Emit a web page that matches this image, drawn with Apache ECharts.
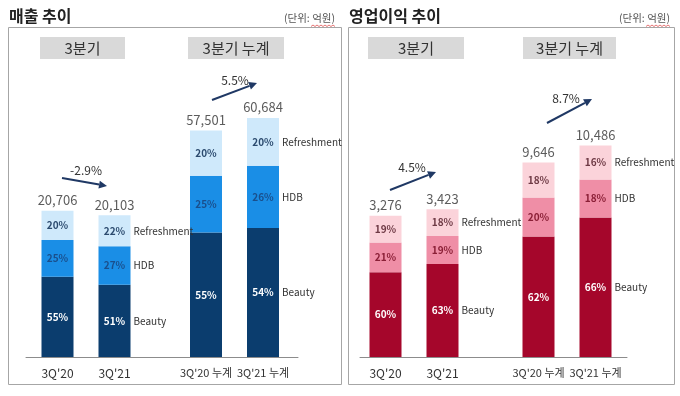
<!DOCTYPE html>
<html>
<head>
<meta charset="utf-8">
<script src="https://cdn.jsdelivr.net/npm/echarts@6/dist/echarts.min.js"></script>
<style>
  html, body { margin: 0; padding: 0; background: #fff; }
  #chart { width: 680px; height: 396px; }
</style>
</head>
<body>
<div id="chart"></div>
<script>
const FONT = "'Noto Sans CJK KR', 'Noto Sans', sans-serif";

// 데이터
const segmentNames = ['Beauty', 'HDB', 'Refreshment'];
const categoriesQ = ["3Q'20", "3Q'21"];
const categoriesC = ["3Q'20 누계", "3Q'21 누계"];

const salesQTotal = [20706, 20103];
const salesQPct = [[55, 25, 20], [51, 27, 22]];
const salesCTotal = [57501, 60684];
const salesCPct = [[55, 25, 20], [54, 26, 20]];
const salesGrowth = ['-2.9%', '5.5%'];

const profitQTotal = [3276, 3423];
const profitQPct = [[60, 21, 19], [63, 19, 18]];
const profitCTotal = [9646, 10486];
const profitCPct = [[62, 20, 18], [66, 18, 16]];
const profitGrowth = ['4.5%', '8.7%'];

const blueColors = ['#0b3d6e', '#1a8ee6', '#cfe9fb'];
const blueText = ['#ffffff', '#1a4f8c', '#2b4a6e'];
const redColors = ['#a5062b', '#ef8ea6', '#fbd3da'];
const redText = ['#ffffff', '#8a1f36', '#6e3a45'];

const grids = [];
const xAxes = [];
const yAxes = [];
const series = [];
const graphics = [];

const GRID_TOP = 110;
const GRID_H = 247;

function addStack(left, width, cats, catFont, totals, pcts, yMax, colors, textColors) {
  const gi = grids.length;
  grids.push({ left: left, top: GRID_TOP, width: width, height: GRID_H });
  xAxes.push({
    type: 'category', gridIndex: gi, data: cats,
    axisLine: { show: false }, axisTick: { show: false },
    axisLabel: { interval: 0, fontFamily: FONT, fontSize: catFont, color: '#333', margin: 10 }
  });
  yAxes.push({ type: 'value', gridIndex: gi, min: 0, max: yMax, show: false });

  segmentNames.forEach((name, si) => {
    series.push({
      type: 'bar', name: name, xAxisIndex: gi, yAxisIndex: gi,
      stack: 's' + gi, barWidth: 32, silent: true,
      data: totals.map((t, i) => ({ value: t * pcts[i][si] / 100, pct: pcts[i][si] })),
      itemStyle: { color: colors[si] },
      label: {
        show: true, position: 'insideLeft', distance: 0,
        formatter: p => p.dataIndex === 1
          ? `{p|${p.data.pct}%}{n|${name}}`
          : `{p|${p.data.pct}%}`,
        rich: {
          p: { width: 32, align: 'center', fontFamily: FONT, fontSize: 10, fontWeight: 'bold', color: textColors[si] },
          n: { fontFamily: FONT, fontSize: 10, color: '#333', padding: [0, 0, 0, 3] }
        }
      }
    });
  });

  series.push({
    type: 'scatter', xAxisIndex: gi, yAxisIndex: gi, symbolSize: 0, silent: true,
    data: totals,
    label: {
      show: true, position: 'top', distance: 4,
      formatter: p => p.value.toLocaleString('en-US'),
      fontFamily: FONT, fontSize: 13, color: '#333'
    }
  });
}

function addBaseline(left, width) {
  const gi = grids.length;
  grids.push({ left: left, top: GRID_TOP, width: width, height: GRID_H });
  xAxes.push({
    type: 'value', gridIndex: gi, min: 0, max: 1,
    axisLine: { show: true, onZero: false, lineStyle: { color: '#8c8c8c', width: 1 } },
    axisTick: { show: false }, axisLabel: { show: false }, splitLine: { show: false }
  });
  yAxes.push({ type: 'value', gridIndex: gi, min: 0, max: 1, show: false });
}

function arrow(x1, y1, x2, y2, color) {
  const ang = Math.atan2(y2 - y1, x2 - x1);
  const hl = 8, hw = 4;
  const bx = x2 - hl * Math.cos(ang), by = y2 - hl * Math.sin(ang);
  const nx = -Math.sin(ang), ny = Math.cos(ang);
  graphics.push({
    type: 'line', silent: true,
    shape: { x1: x1, y1: y1, x2: bx, y2: by },
    style: { stroke: color, lineWidth: 2 }
  });
  graphics.push({
    type: 'polygon', silent: true,
    shape: { points: [[x2, y2], [bx + nx * hw, by + ny * hw], [bx - nx * hw, by - ny * hw]] },
    style: { fill: color }
  });
}

function text(x, y, str, size, opts) {
  graphics.push({
    type: 'text', x: x, y: y, silent: true,
    style: Object.assign({
      text: str, fontFamily: FONT, fontSize: size, fill: '#333',
      align: 'center', verticalAlign: 'middle'
    }, opts || {})
  });
}

function panel(p) {
  // 테두리
  graphics.push({
    type: 'rect', silent: true,
    shape: { x: p.boxX + 0.5, y: 27.5, width: p.boxW, height: 357 },
    style: { fill: 'none', stroke: '#a6a6a6', lineWidth: 1 }
  });
  text(p.boxX + 1, 16, p.title, 16, { align: 'left', fontWeight: 'bold', fill: '#222' });
  text(p.unitRight, 18, '(단위: 억원)', 10.5, { align: 'right', fill: '#555' });
  // 맞춤법 물결선
  const wave = [];
  for (let i = 0; i <= 12; i++) wave.push([p.unitRight - 24 + i * 2, i % 2 ? 25 : 26.5]);
  graphics.push({ type: 'polyline', silent: true, shape: { points: wave }, style: { stroke: '#e05050', lineWidth: 0.8, fill: null } });

  // 헤더 박스
  p.headers.forEach(h => {
    graphics.push({
      type: 'rect', silent: true,
      shape: { x: h[0], y: 37, width: h[1], height: 22 },
      style: { fill: '#d9d9d9' }
    });
    text(h[0] + h[1] / 2, 48, h[2], 15, { fill: '#333' });
  });

  addBaseline(p.base[0], p.base[1]);
  addStack(p.qLeft, 114, categoriesQ, 12, p.totalsQ, p.pctQ, p.maxQ, p.colors, p.textColors);
  addStack(p.cLeft, 114, categoriesC, 11, p.totalsC, p.pctC, p.maxC, p.colors, p.textColors);

  p.arrows.forEach((a, i) => {
    arrow(a[0], a[1], a[2], a[3], '#1f3864');
    text(a[4], a[5], p.growth[i], 12, { fill: '#333' });
  });
}

panel({
  title: '매출 추이', boxX: 8, boxW: 333, unitRight: 335,
  headers: [[40, 85, '3분기'], [188, 96, '3분기 누계']],
  base: [26, 272], qLeft: 29, cLeft: 177.5,
  totalsQ: salesQTotal, pctQ: salesQPct, maxQ: 35000,
  totalsC: salesCTotal, pctC: salesCPct, maxC: 62700,
  growth: salesGrowth, colors: blueColors, textColors: blueText,
  arrows: [[62, 178, 107, 186, 86, 170], [212, 100, 257, 83, 235, 80]]
});

panel({
  title: '영업이익 추이', boxX: 348, boxW: 326, unitRight: 670,
  headers: [[368, 96, '3분기'], [523, 93, '3분기 누계']],
  base: [360, 267], qLeft: 357, cLeft: 510,
  totalsQ: profitQTotal, pctQ: profitQPct, maxQ: 5725,
  totalsC: profitCTotal, pctC: profitCPct, maxC: 12250,
  growth: profitGrowth, colors: redColors, textColors: redText,
  arrows: [[390, 190, 436, 172, 412, 167], [547, 123, 592, 99, 566, 98]]
});

const chart = echarts.init(document.getElementById('chart'), null, { renderer: 'canvas' });
chart.setOption({
  backgroundColor: '#ffffff',
  animation: false,
  grid: grids,
  xAxis: xAxes,
  yAxis: yAxes,
  series: series,
  graphic: graphics
});
</script>
</body>
</html>
